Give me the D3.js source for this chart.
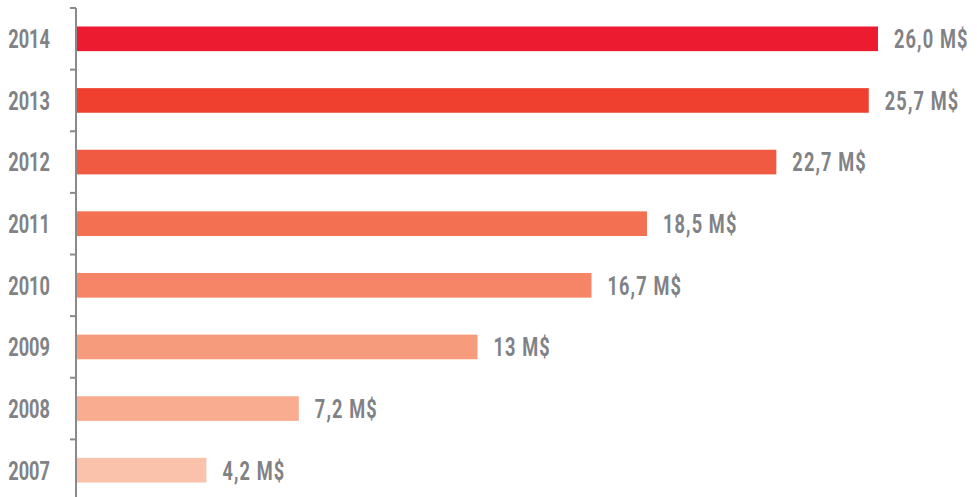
<!DOCTYPE html>
<html>
<head>
<meta charset="utf-8">
<script src="https://cdn.jsdelivr.net/npm/d3@7"></script>
<style>
  body { margin: 0; background: #fff; }
  text { font-family: Roboto, "DejaVu Sans Condensed", sans-serif; font-weight: bold; fill: #818286; }
</style>
</head>
<body>
<div class="container"></div>
<script>
var years = ["2014", "2013", "2012", "2011", "2010", "2009", "2008", "2007"];
var values = [26.0, 25.7, 22.7, 18.5, 16.7, 13, 7.2, 4.2];
var valueLabels = ["26,0 M$", "25,7 M$", "22,7 M$", "18,5 M$", "16,7 M$", "13 M$", "7,2 M$", "4,2 M$"];
var colors = ["#ed1b2f", "#ef402f", "#f15a42", "#f37052", "#f58566", "#f69c7c", "#f9ac8f", "#fbc2ab"];

const WIDTH = 977;
const HEIGHT = 497;
const AXIS_X = 76;
const SQUEEZE = 0.7;

var translate = function(x, y){
  return "translate(" + x + "," + y + ")";
};

var svg = d3.select('.container').append('svg')
  .attr('width', WIDTH)
  .attr('height', HEIGHT);

var y = d3.scaleBand()
  .domain(years)
  .range([8, 501])
  .paddingInner(0.6)
  .paddingOuter(0.3);

var x = d3.scaleLinear()
  .domain([0, 26])
  .range([AXIS_X + 1, 878]);

// axis line + ticks between bands
var axis = svg.append('g').attr('class', 'axis');
axis.append('line')
  .attr('x1', AXIS_X).attr('x2', AXIS_X)
  .attr('y1', y.range()[0]).attr('y2', HEIGHT)
  .attr('stroke', '#8a8a8a').attr('stroke-width', 2);

axis.selectAll('.tick').data(years)
  .enter().append('line')
  .attr('x1', AXIS_X - 6).attr('x2', AXIS_X)
  .attr('y1', function(d){ return y(d) - y.step() * y.paddingOuter(); })
  .attr('y2', function(d){ return y(d) - y.step() * y.paddingOuter(); })
  .attr('stroke', '#8a8a8a').attr('stroke-width', 2);

svg.selectAll('.year').data(years)
  .enter().append('text')
  .attr('class', 'year')
  .attr('transform', function(d){ return translate(50, y(d) + y.bandwidth() / 2) + " scale(" + SQUEEZE + ",1)"; })
  .attr('dy', '0.36em')
  .attr('text-anchor', 'end')
  .attr('font-size', 26)
  .text(function(d){ return d; });

svg.selectAll('rect').data(values)
  .enter().append('rect')
  .attr('x', x(0))
  .attr('y', function(d, i){ return y(years[i]); })
  .attr('width', function(d){ return x(d) - x(0); })
  .attr('height', y.bandwidth())
  .attr('fill', function(d, i){ return colors[i]; });

svg.selectAll('.val').data(values)
  .enter().append('text')
  .attr('class', 'val')
  .attr('transform', function(d, i){ return translate(x(d) + 16, y(years[i]) + y.bandwidth() / 2) + " scale(" + SQUEEZE + ",1)"; })
  .attr('dy', '0.36em')
  .attr('font-size', 26)
  .attr('letter-spacing', 1.6)
  .text(function(d, i){ return valueLabels[i]; });
</script>
</body>
</html>
